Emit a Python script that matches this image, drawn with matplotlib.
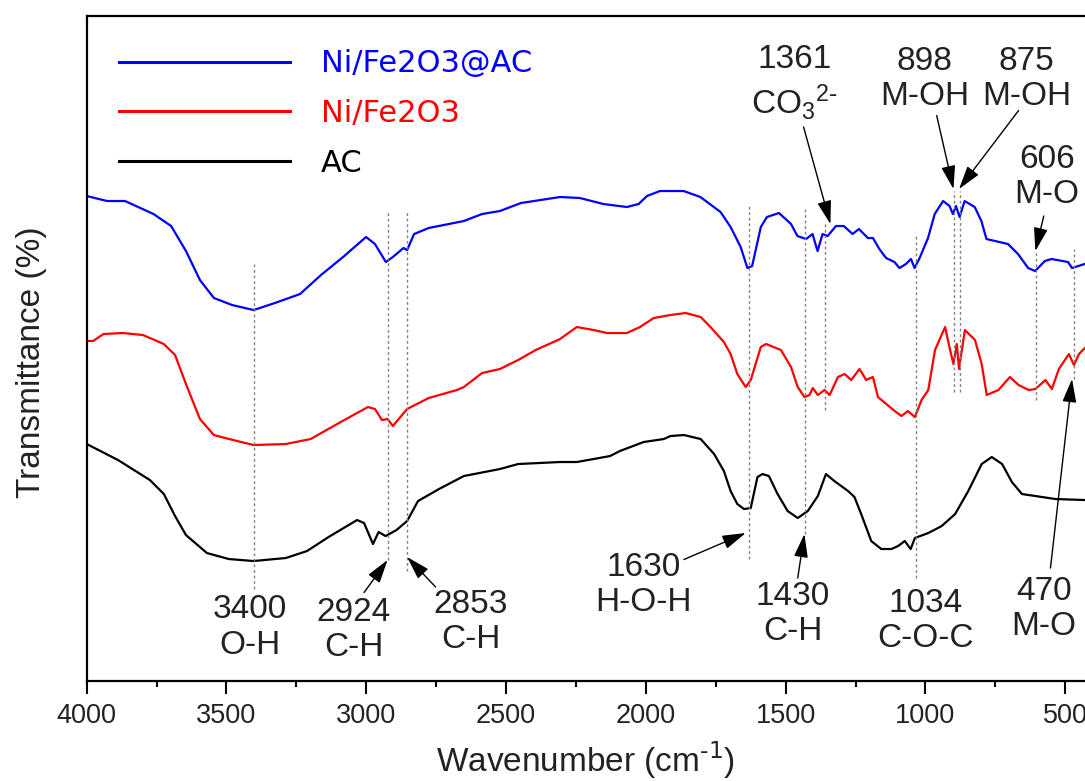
import numpy as np
import matplotlib
matplotlib.use("Agg")
import matplotlib.pyplot as plt
from matplotlib.ticker import MultipleLocator

plt.rcParams['font.family'] = ['Liberation Sans', 'DejaVu Sans']
plt.rcParams['mathtext.default'] = 'regular'

# FTIR spectra, transmittance in arbitrary (offset) units
wn_nfac = [4000, 3927, 3863, 3761, 3698, 3645, 3595, 3545, 3480, 3403, 3327, 3237, 3162, 3083,
           3001, 2969, 2930, 2905, 2867, 2854, 2829, 2777, 2651, 2586, 2522, 2447, 2307, 2236,
           2152, 2068, 2026, 1996, 1950, 1865, 1805, 1733, 1697, 1661, 1637, 1620, 1589, 1567,
           1524, 1481, 1458, 1427, 1404, 1386, 1368, 1350, 1320, 1292, 1261, 1238, 1206, 1188,
           1165, 1141, 1111, 1093, 1070, 1052, 1039, 1021, 991, 967, 937, 914, 902, 891, 878,
           860, 824, 800, 782, 705, 669, 633, 608, 573, 549, 490, 476, 431]
t_nfac = [48.5, 48.0, 48.0, 46.7, 45.5, 43.0, 40.1, 38.3, 37.6, 37.1, 37.8, 38.7, 40.6, 42.4,
          44.4, 43.7, 41.9, 42.4, 43.3, 43.1, 44.7, 45.3, 46.0, 46.7, 47.0, 47.8, 48.4, 48.3,
          47.7, 47.4, 47.7, 48.5, 49.0, 49.0, 48.4, 46.9, 45.4, 43.4, 41.3, 41.5, 45.4, 46.4,
          46.8, 45.7, 44.5, 44.2, 44.7, 43.0, 44.7, 44.5, 45.5, 45.5, 44.7, 45.2, 44.3, 44.3,
          43.2, 42.3, 41.9, 41.3, 41.7, 42.2, 41.3, 42.3, 44.3, 46.7, 48.0, 47.5, 46.7, 47.5, 46.4,
          48.0, 47.4, 46.0, 44.2, 43.7, 42.7, 41.3, 41.0, 42.0, 42.2, 41.9, 41.3, 41.7]

wn_nf = [4000, 3977, 3940, 3870, 3799, 3724, 3684, 3645, 3595, 3545, 3505, 3403, 3288, 3199,
         3098, 2994, 2969, 2944, 2924, 2905, 2854, 2777, 2676, 2651, 2586, 2522, 2457, 2394,
         2307, 2247, 2187, 2139, 2068, 2021, 1972, 1912, 1858, 1804, 1769, 1721, 1697, 1673,
         1643, 1625, 1589, 1570, 1517, 1481, 1457, 1433, 1415, 1403, 1385, 1361, 1343, 1313,
         1289, 1266, 1236, 1212, 1188, 1170, 1140, 1110, 1086, 1063, 1038, 1014, 990, 966, 930,
         912, 900, 888, 880, 859, 823, 799, 781, 739, 698, 667, 631, 607, 571, 548, 523, 487,
         469, 451, 430]
t_nf = [34.0, 34.0, 34.7, 34.8, 34.6, 33.7, 32.6, 29.7, 26.2, 24.6, 24.3, 23.6, 23.7, 24.2,
        25.8, 27.4, 27.2, 26.1, 26.2, 25.5, 27.2, 28.3, 29.1, 29.4, 30.8, 31.2, 32.1, 33.1,
        34.2, 35.4, 35.1, 34.8, 34.8, 35.4, 36.3, 36.6, 36.8, 36.4, 35.4, 33.9, 32.7, 30.7,
        29.4, 30.1, 33.4, 33.7, 33.1, 31.4, 29.4, 28.4, 28.6, 29.3, 28.6, 29.1, 28.6, 30.4,
        30.7, 30.1, 31.2, 30.1, 30.4, 28.4, 27.7, 27.0, 26.5, 27.0, 26.4, 28.1, 29.1, 33.1, 35.4,
        33.1, 31.7, 33.7, 31.2, 35.1, 34.1, 31.7, 28.6, 29.1, 30.4, 29.6, 29.1, 29.2, 30.1, 29.2,
        31.2, 32.7, 31.6, 32.7, 33.3]

wn_ac = [4000, 3888, 3774, 3724, 3684, 3645, 3570, 3492, 3403, 3288, 3212, 3135, 3033, 3008,
         2976, 2956, 2931, 2892, 2854, 2815, 2740, 2651, 2522, 2457, 2307, 2247, 2187, 2128,
         2093, 2008, 1936, 1912, 1864, 1804, 1756, 1721, 1697, 1673, 1649, 1625, 1601, 1583,
         1560, 1529, 1493, 1457, 1421, 1385, 1356, 1326, 1277, 1254, 1230, 1194, 1158, 1122,
         1098, 1074, 1053, 1038, 990, 942, 894, 847, 799, 763, 726, 691, 655, 607, 535, 430]
t_ac = [23.7, 22.1, 20.1, 18.7, 16.5, 14.6, 12.8, 12.2, 12.0, 12.3, 13.0, 14.4, 16.1, 15.8,
        13.7, 14.9, 14.5, 15.1, 16.0, 18.0, 19.2, 20.5, 21.2, 21.7, 21.9, 21.9, 22.2, 22.5,
        23.0, 23.9, 24.2, 24.5, 24.6, 24.2, 22.7, 21.0, 19.0, 17.7, 17.2, 17.3, 20.4, 20.7,
        20.5, 18.7, 17.0, 16.3, 17.0, 18.5, 20.7, 20.0, 19.0, 18.4, 16.7, 14.0, 13.2, 13.2,
        13.5, 14.0, 13.2, 14.3, 14.8, 15.5, 16.7, 19.0, 21.7, 22.4, 21.7, 19.9, 18.7, 18.5,
        18.2, 18.1]

series = [("Ni/Fe2O3@AC", wn_nfac, t_nfac, "#0000ff"),
          ("Ni/Fe2O3", wn_nf, t_nf, "#ff0000"),
          ("AC", wn_ac, t_ac, "black")]

# band markers: wavenumber, dotted line top / bottom
band_wn = [3400, 2924, 2853, 1630, 1430, 1361, 1034, 898, 875, 606, 470]
band_top = [41.7, 46.9, 46.9, 47.7, 47.3, 45.7, 44.5, 49.0, 49.0, 43.0, 43.2]
band_bot = [9.2, 12.1, 11.0, 12.2, 14.7, 27.1, 10.3, 28.9, 28.9, 28.1, 30.2]

# labels: text, text position, arrow start, arrow tip (None = no arrow)
labels = [
    ("3400\nO-H", (3416, 5.35), None, None),
    ("2924\nC-H", (3045, 5.1), (3008, 8.85), (2924, 12.1)),
    ("2853\nC-H", (2626, 5.9), (2752, 9.4), (2854, 12.4)),
    ("1630\nH-O-H", (2008, 9.6), (1864, 12.15), (1643, 14.8)),
    ("1430\nC-H", (1475, 6.7), (1457, 10.3), (1433, 14.7)),
    ("1034\nC-O-C", (999, 6.0), None, None),
    ("470\nM-O", (577, 7.2), (553, 11.3), (476, 30.2)),
    ("1361\nCO$_3$$^{2\\text{-}}$", (1469, 59.8), (1436, 55.4), (1340, 45.7)),
    ("898\nM-OH", (1002, 60.2), (960, 56.55), (900, 49.2)),
    ("875\nM-OH", (638, 60.2), (667, 57.05), (880, 49.2)),
    ("606\nM-O", (566, 50.4), (577, 46.5), (607, 43.0)),
]

fig = plt.figure(figsize=(10.85, 7.81), dpi=100)
ax = fig.add_axes([0.0799, 0.1280, 0.9201, 0.8515])

for name, wn, t, col in series:
    ax.plot(wn, t, color=col, lw=1.6, label=name)

for w, top, bot in zip(band_wn, band_top, band_bot):
    ax.plot([w, w], [bot, top], color="0.5", lw=1.0, ls=(0, (2, 2)))

for txt, pos, start, tip in labels:
    ax.text(pos[0], pos[1], txt, ha="center", va="center", fontsize=24,
            color="#222222", linespacing=1.2, multialignment="center")
    if start is not None:
        ax.annotate("", xy=tip, xytext=start,
                    arrowprops=dict(arrowstyle="-|>,head_length=0.6,head_width=0.18",
                                    color="black", lw=1.0,
                                    mutation_scale=24, shrinkA=0, shrinkB=0))

ax.set_xlim(4000, 429.5)
ax.set_ylim(0, 66.5)
ax.set_yticks([])
ax.xaxis.set_major_locator(MultipleLocator(500))
ax.xaxis.set_minor_locator(MultipleLocator(250))
ax.tick_params(axis="x", which="major", direction="out", length=9, width=1.5,
               labelsize=19.5, labelcolor="#222222", pad=7)
ax.tick_params(axis="x", which="minor", direction="out", length=4.5, width=1.5)
for s in ["left", "bottom", "top"]:
    ax.spines[s].set_linewidth(1.6)
ax.spines["right"].set_visible(False)

ax.set_xlabel("Wavenumber (cm$^{\\text{-1}}$)", fontsize=24, color="#222222", labelpad=8)
ax.set_ylabel("Transmittance (%)", fontsize=24, color="#222222")
ax.yaxis.set_label_coords(-0.040, 0.48)

leg = ax.legend(loc="upper left", bbox_to_anchor=(0.1097, 0.937),
                bbox_transform=fig.transFigure, frameon=False, borderpad=0,
                borderaxespad=0, handlelength=5.6, handletextpad=1.0,
                labelspacing=0.68, prop={"family": "DejaVu Sans", "size": 22},
                labelcolor="linecolor")
for h in leg.get_lines():
    h.set_linewidth(2.2)

fig.savefig("out.png", dpi=100)
